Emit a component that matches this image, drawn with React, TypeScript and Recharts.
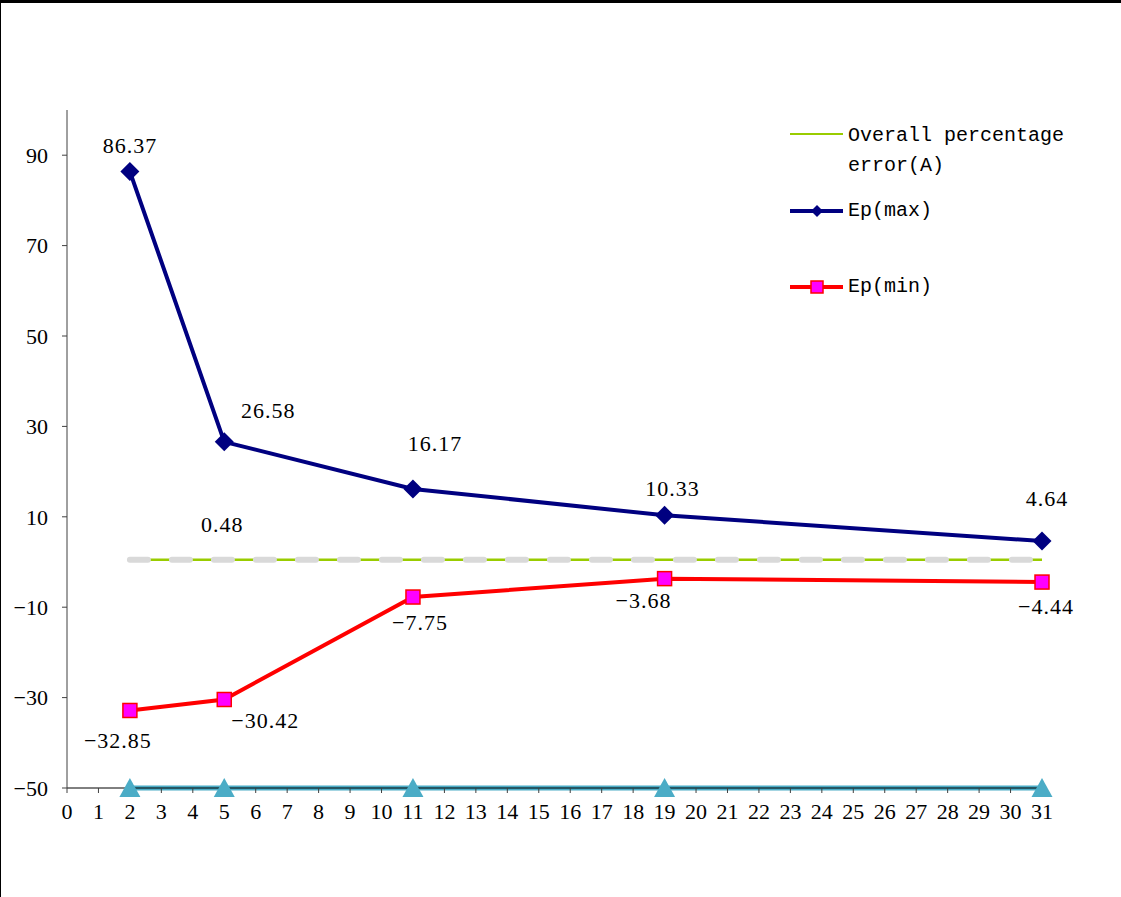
import { LineChart, Line, XAxis, YAxis, LabelList } from 'recharts';

const days = [2, 5, 11, 19, 31];
const epMax = [86.37, 26.58, 16.17, 10.33, 4.64];
const epMin = [-32.85, -30.42, -7.75, -3.68, -4.44];
const overall = [0.48, 0.48, 0.48, 0.48, 0.48];
const baseline = [-50, -50, -50, -50, -50];
const xTicks = [0, 1, 2, 3, 4, 5, 6, 7, 8, 9, 10, 11, 12, 13, 14, 15, 16, 17, 18, 19, 20, 21, 22, 23, 24, 25, 26, 27, 28, 29, 30, 31];
const yTicks = [-50, -30, -10, 10, 30, 50, 70, 90];

const data = days.map((d, i) => ({
  day: d,
  max: epMax[i],
  min: epMin[i],
  overall: overall[i],
  overallDash: overall[i],
  base: baseline[i],
}));

// label nudges, in px, roughly where excel left them
const maxOffsets = [[0, -26], [44, -31], [22, -45], [8, -27], [5, -43]];
const minOffsets = [[-12, 30], [41, 21], [7, 25], [-21, 22], [4, 24]];
const overallOffsets = [[0, -35], [-2, -35], [0, -35], [0, -35], [0, -35]];

const serif = '"Liberation Serif", "DejaVu Serif", serif';
const mono = '"Liberation Mono", "DejaVu Sans Mono", monospace';

// excel shows a proper minus sign
const fmt = (v: number) => String(v).replace('-', '\u2212');

const makeLabel = (offsets: number[][], only?: number) => (props: any) => {
  const { x, y, value, index } = props;
  if (only !== undefined && index !== only) return null;
  const [dx, dy] = offsets[index] || [0, 0];
  return (
    <text
      x={x + dx}
      y={y + dy}
      textAnchor="middle"
      dominantBaseline="central"
      fontFamily={serif}
      fontSize={22}
      letterSpacing={1}
      fill="#000"
    >
      {fmt(value)}
    </text>
  );
};

const Diamond = (props: any) => {
  const { cx, cy, index } = props;
  const r = 9.5;
  return (
    <path
      key={`dm-${index}`}
      d={`M${cx},${cy - r} L${cx + r},${cy} L${cx},${cy + r} L${cx - r},${cy} Z`}
      fill="#000080"
    />
  );
};

const Square = (props: any) => {
  const { cx, cy, index } = props;
  return (
    <rect key={`sq-${index}`} x={cx - 7} y={cy - 7} width={14} height={14} fill="#FF00FF" stroke="#FF0000" strokeWidth={1.5} />
  );
};

const Triangle = (props: any) => {
  const { cx, cy, index } = props;
  return (
    <path key={`tr-${index}`} d={`M${cx},${cy - 10} L${cx + 10.5},${cy + 9} L${cx - 10.5},${cy + 9} Z`} fill="#4BACC6" />
  );
};

const ChartLegend = () => {
  const row = { display: 'flex', alignItems: 'flex-start', height: 75 } as const;
  const txt = { fontFamily: mono, fontSize: 20, lineHeight: '30px', color: '#000', marginLeft: 4 };
  return (
    <div style={{ position: 'absolute', left: 790, top: 121, width: 320 }}>
      <div style={row}>
        <svg width={54} height={30}>
          <line x1={0} y1={13} x2={53} y2={13} stroke="#99CC00" strokeWidth={2} />
        </svg>
        <div style={txt}>
          Overall percentage
          <br />
          error(A)
        </div>
      </div>
      <div style={{ ...row, height: 76 }}>
        <svg width={54} height={30}>
          <line x1={0} y1={15} x2={53} y2={15} stroke="#000080" strokeWidth={4} />
          <path d="M27,9 L33,15 L27,21 L21,15 Z" fill="#000080" />
        </svg>
        <div style={txt}>Ep(max)</div>
      </div>
      <div style={row}>
        <svg width={54} height={30}>
          <line x1={0} y1={15} x2={53} y2={15} stroke="#FF0000" strokeWidth={4} />
          <rect x={21} y={9} width={12} height={12} fill="#FF00FF" stroke="#FF0000" strokeWidth={1.5} />
        </svg>
        <div style={txt}>Ep(min)</div>
      </div>
    </div>
  );
};

export default function App() {
  return (
    <div style={{ position: 'absolute', left: 0, top: 0, width: 1121, height: 897, background: '#fff' }}>
      <LineChart width={1121} height={897} data={data} margin={{ top: 110, right: 79, bottom: 79, left: 7 }}>
        <XAxis
          dataKey="day"
          type="number"
          domain={[0, 31]}
          ticks={xTicks}
          interval={0}
          height={30}
          tickSize={5}
          tickMargin={10}
          axisLine={{ stroke: '#000', strokeWidth: 1 }}
          tickLine={{ stroke: '#404040' }}
          tick={{ fontFamily: serif, fontSize: 22, fill: '#000' }}
        />
        <YAxis
          type="number"
          domain={[-50, 100]}
          ticks={yTicks}
          interval={0}
          width={60}
          tickSize={5}
          tickMargin={14}
          tickFormatter={fmt}
          axisLine={{ stroke: '#404040', strokeWidth: 1 }}
          tickLine={{ stroke: '#404040' }}
          tick={{ fontFamily: serif, fontSize: 22, fill: '#000' }}
        />
        <Line
          name="Overall percentage error(A)"
          dataKey="overall"
          type="linear"
          stroke="#99CC00"
          strokeWidth={2.5}
          dot={false}
          isAnimationActive={false}
        >
          <LabelList dataKey="overall" content={makeLabel(overallOffsets, 1)} />
        </Line>
        <Line
          dataKey="overallDash"
          type="linear"
          stroke="#D9D9D9"
          strokeWidth={6}
          strokeDasharray="18 24"
          strokeLinecap="round"
          dot={false}
          legendType="none"
          isAnimationActive={false}
        />
        <Line
          dataKey="base"
          type="linear"
          stroke="#4BACC6"
          strokeWidth={5}
          dot={Triangle}
          legendType="none"
          isAnimationActive={false}
        />
        <Line
          name="Ep(min)"
          dataKey="min"
          type="linear"
          stroke="#FF0000"
          strokeWidth={4}
          dot={Square}
          isAnimationActive={false}
        >
          <LabelList dataKey="min" content={makeLabel(minOffsets)} />
        </Line>
        <Line
          name="Ep(max)"
          dataKey="max"
          type="linear"
          stroke="#000080"
          strokeWidth={4}
          dot={Diamond}
          isAnimationActive={false}
        >
          <LabelList dataKey="max" content={makeLabel(maxOffsets)} />
        </Line>
      </LineChart>
      <ChartLegend />
      <div style={{ position: 'absolute', left: 0, top: 0, width: 1121, height: 3, background: '#000', pointerEvents: 'none' }} />
      <div style={{ position: 'absolute', left: 0, top: 0, width: 1, height: 897, background: '#000', pointerEvents: 'none' }} />
    </div>
  );
}
